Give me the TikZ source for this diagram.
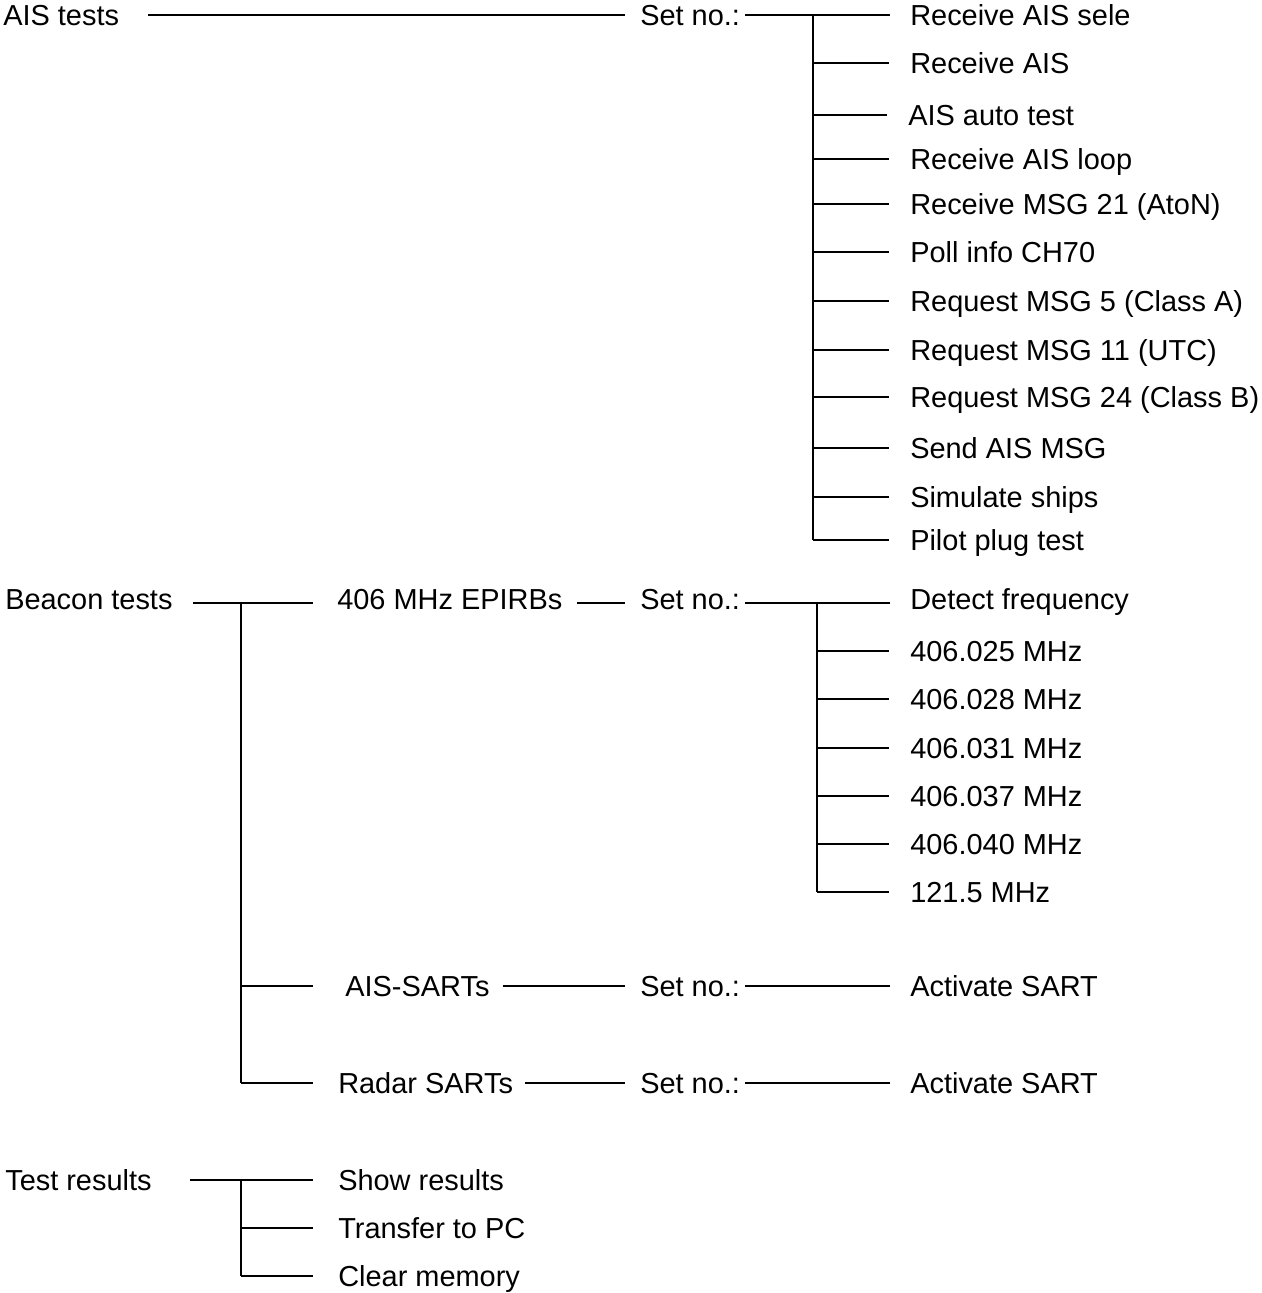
\documentclass[tikz,border=0pt]{standalone}
\usepackage{fontspec}
\setmainfont{Liberation Sans}
\usetikzlibrary{positioning}

\begin{document}
\begin{tikzpicture}[
    x=0.75pt, y=-0.75pt,
    lbl/.style={anchor=west, inner sep=0pt, text height=16.2pt, text depth=0pt, font=\fontsize{21.7}{26}\selectfont},
    lblhi/.style={lbl, text height=9.6pt},
    wire/.style={line width=1.3pt},
    twig/.style={wire, shorten >=16pt}
]
\useasboundingbox (0,0) rectangle (1262,1293);

% Nhánh AIS tests
\node[lbl] (aist) at (3,15) {AIS tests};
\node[lbl] (setA) at (640,15) {Set no.:};
\node[lbl] (a1) at (910,15) {Receive AIS sele};
\node[lbl] (a2) at (910,63) {Receive AIS};
\node[lbl] (a3) at (908,115) {AIS auto test};
\node[lbl] (a4) at (910,159) {Receive AIS loop};
\node[lbl] (a5) at (910,204) {Receive MSG 21 (AtoN)};
\node[lbl] (a6) at (910,252) {Poll info CH70};
\node[lbl] (a7) at (910,301) {Request MSG 5 (Class A)};
\node[lbl] (a8) at (910,350) {Request MSG 11 (UTC)};
\node[lbl] (a9) at (910,397) {Request MSG 24 (Class B)};
\node[lbl] (a10) at (910,448) {Send AIS MSG};
\node[lbl] (a11) at (910,497) {Simulate ships};
\node[lbl] (a12) at (910,540) {Pilot plug test};

\coordinate (tA) at (813,15);
\coordinate (tAend) at (813,540);

\draw[wire, shorten <=21.75pt, shorten >=11.25pt] (aist.east) -- (setA.west);
\draw[wire, shorten <=3.75pt, shorten >=15pt] (setA.east) -- (a1.west);
\draw[wire] (tA) -- (tAend);
\draw[twig] (tAend |- a2.west) -- (a2.west);
\draw[twig] (tAend |- a3.west) -- (a3.west);
\draw[twig] (tAend |- a4.west) -- (a4.west);
\draw[twig] (tAend |- a5.west) -- (a5.west);
\draw[twig] (tAend |- a6.west) -- (a6.west);
\draw[twig] (tAend |- a7.west) -- (a7.west);
\draw[twig] (tAend |- a8.west) -- (a8.west);
\draw[twig] (tAend |- a9.west) -- (a9.west);
\draw[twig] (tAend |- a10.west) -- (a10.west);
\draw[twig] (tAend |- a11.west) -- (a11.west);
\draw[twig] (tAend) -- (a12.west);

% Nhánh Beacon tests
\node[lblhi] (bcn) at (5,603) {Beacon tests};
\node[lblhi] (epirb) at (337,603) {406 MHz EPIRBs};
\node[lblhi] (setB) at (640,603) {Set no.:};
\node[lblhi] (f1) at (910,603) {Detect frequency};
\node[lbl] (f2) at (910,651) {406.025 MHz};
\node[lbl] (f3) at (910,699) {406.028 MHz};
\node[lbl] (f4) at (910,748) {406.031 MHz};
\node[lbl] (f5) at (910,796) {406.037 MHz};
\node[lbl] (f6) at (910,844) {406.040 MHz};
\node[lbl] (f7) at (910,892) {121.5 MHz};

\node[lbl] (sart) at (345,986) {AIS-SARTs};
\node[lbl] (setC) at (640,986) {Set no.:};
\node[lbl] (actC) at (910,986) {Activate SART};

\node[lbl] (radar) at (338,1083) {Radar SARTs};
\node[lbl] (setD) at (640,1083) {Set no.:};
\node[lbl] (actD) at (910,1083) {Activate SART};

\coordinate (tB) at (817,603);
\coordinate (tBend) at (817,892);
\coordinate (tC) at (241,603);
\coordinate (tCend) at (241,1083);

\draw[wire, shorten <=15pt, shorten >=18pt] (bcn.east) -- (epirb.west);
\draw[wire, shorten <=10.5pt, shorten >=11.25pt] (epirb.east) -- (setB.west);
\draw[wire, shorten <=3.75pt, shorten >=15pt] (setB.east) -- (f1.west);
\draw[wire] (tB) -- (tBend);
\draw[twig] (tBend |- f2.west) -- (f2.west);
\draw[twig] (tBend |- f3.west) -- (f3.west);
\draw[twig] (tBend |- f4.west) -- (f4.west);
\draw[twig] (tBend |- f5.west) -- (f5.west);
\draw[twig] (tBend |- f6.west) -- (f6.west);
\draw[twig] (tBend) -- (f7.west);

\draw[wire] (tC) -- (tCend);
\draw[wire, shorten >=24pt] (tCend |- sart.west) -- (sart.west);
\draw[wire, shorten >=18.75pt] (tCend) -- (radar.west);
\draw[wire, shorten <=9.75pt, shorten >=11.25pt] (sart.east) -- (setC.west);
\draw[wire, shorten <=3.75pt, shorten >=15pt] (setC.east) -- (actC.west);
\draw[wire, shorten <=9pt, shorten >=11.25pt] (radar.east) -- (setD.west);
\draw[wire, shorten <=3.75pt, shorten >=15pt] (setD.east) -- (actD.west);

% Nhánh Test results
\node[lbl] (tres) at (5,1180) {Test results};
\node[lbl] (show) at (338,1180) {Show results};
\node[lbl] (xfer) at (338,1228) {Transfer to PC};
\node[lbl] (clr) at (338,1276) {Clear memory};

\coordinate (tD) at (241,1180);
\coordinate (tDend) at (241,1276);

\draw[wire, shorten <=28.5pt, shorten >=18.75pt] (tres.east) -- (show.west);
\draw[wire] (tD) -- (tDend);
\draw[wire, shorten >=18.75pt] (tDend |- xfer.west) -- (xfer.west);
\draw[wire, shorten >=18.75pt] (tDend) -- (clr.west);

\end{tikzpicture}
\end{document}
